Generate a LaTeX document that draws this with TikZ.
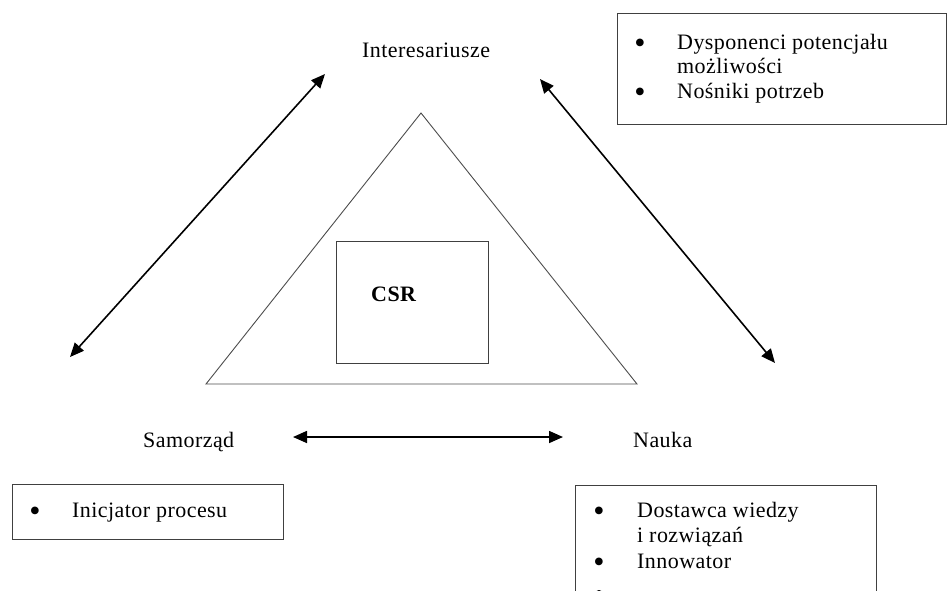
\documentclass[tikz,border=0pt]{standalone}
\usepackage{fontspec}
\setmainfont{Liberation Serif}[LetterSpace=2]
\usetikzlibrary{arrows.meta}
\begin{document}
\begin{tikzpicture}[x=1pt,y=-1pt,
  lbl/.style={anchor=base west, inner sep=0pt, font=\fontsize{22}{26}\selectfont},
  bul/.style={anchor=base, inner sep=0pt, font=\fontsize{32}{34}\selectfont, yshift=-4pt},
  frame/.style={draw=black!75, line width=1pt},
  thin/.style={draw=black!70, line width=0.9pt},
  biarrow/.style={line width=1.6pt, {Triangle[length=14pt,width=12pt]}-{Triangle[length=14pt,width=12pt]}}]
\useasboundingbox (0,0) rectangle (948,590);
\clip (0,0) rectangle (948,590);

% central triangle and CSR box
\coordinate (apex) at (421,113);
\coordinate (bl) at (206,384);
\coordinate (br) at (637,384);
\draw[thin] (apex) -- (bl) -- (br) -- cycle;
\node[frame, minimum width=152pt, minimum height=122pt, anchor=north west, inner sep=0pt] (csrbox) at (336,241) {};
\node[lbl, font=\fontsize{22}{26}\selectfont\bfseries] (csr) at (371,301) {CSR};

% corner labels
\node[lbl] (inter) at (362,57) {Interesariusze};
\node[lbl] (samo) at (143,447) {Samorząd};
\node[lbl] (nauka) at (633,447) {Nauka};

% arrows
\coordinate (a1s) at (70,357);
\coordinate (a1e) at (325,74);
\coordinate (a2s) at (540,79);
\coordinate (a2e) at (775,363);
\coordinate (a3s) at (293,437);
\coordinate (a3e) at (563,437);
\draw[biarrow] (a1s) -- (a1e);
\draw[biarrow] (a2s) -- (a2e);
\draw[biarrow] (a3s) -- (a3e);

% top-right box
\node[frame, minimum width=329pt, minimum height=111pt, anchor=north west, inner sep=0pt] (trbox) at (617,13) {};
\node[bul] (tb1) at (640,49) {•};
\node[lbl] (tt1) at (677,49) {Dysponenci potencjału};
\node[lbl] (tt2) at (677,73) {możliwości};
\node[bul] (tb2) at (640,98) {•};
\node[lbl] (tt3) at (677,98) {Nośniki potrzeb};

% bottom-left box
\node[frame, minimum width=271pt, minimum height=55pt, anchor=north west, inner sep=0pt] (blbox) at (12,484) {};
\node[bul] (lb1) at (35,517) {•};
\node[lbl] (lt1) at (72,517) {Inicjator procesu};

% bottom-right box (cut off by the picture edge)
\node[frame, minimum width=301pt, minimum height=140pt, anchor=north west, inner sep=0pt] (brbox) at (575,485) {};
\node[bul] (rb1) at (599,517) {•};
\node[lbl] (rt1) at (637,517) {Dostawca wiedzy};
\node[lbl] (rt2) at (637,542) {i rozwiązań};
\node[bul] (rb2) at (599,568) {•};
\node[lbl] (rt3) at (637,568) {Innowator};
\fill[black] (599,594) circle (4pt);
\end{tikzpicture}
\end{document}
